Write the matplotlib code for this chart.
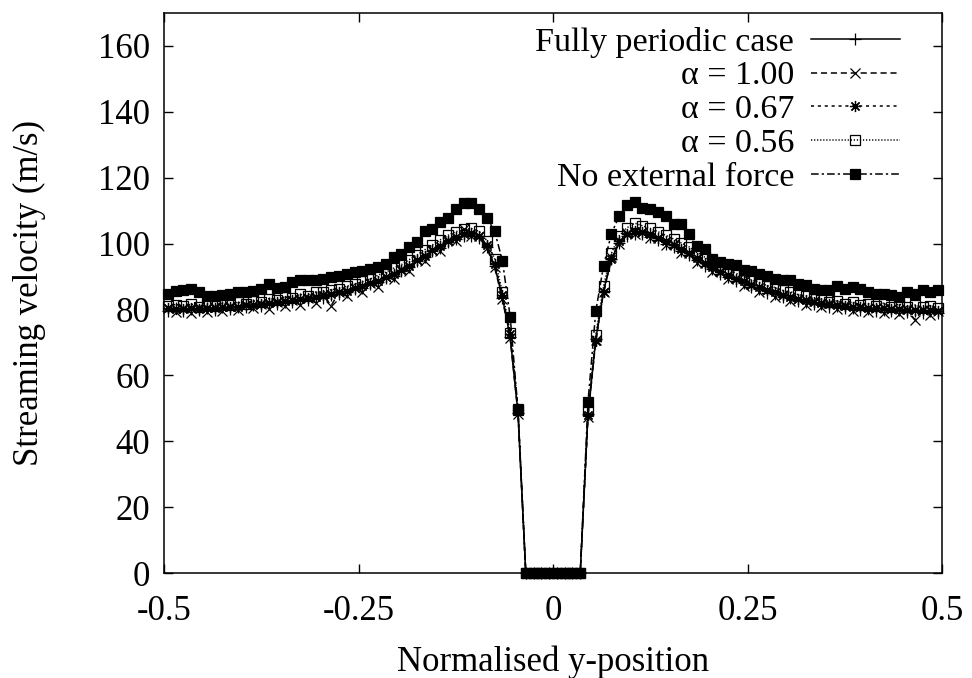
import numpy as np
import matplotlib
matplotlib.use("Agg")
import matplotlib.pyplot as plt

# ---- data ----
x_pos = np.round(np.arange(-0.495, 0.5, 0.01), 3)   # 100 cell centres

zeros8 = [0.0] * 8

fully_periodic = [
    79.6, 80.3, 79.5, 80.2, 79.8, 80.3, 79.9, 80.6, 80.2, 80.9,
    80.6, 81.4, 81.1, 81.9, 81.6, 82.4, 82.2, 83.1, 82.9, 83.7,
    83.6, 84.5, 84.6, 85.2, 86.2, 86.5, 87.6, 88.2, 89.5, 90.3,
    91.8, 92.8, 94.6, 95.8, 97.7, 98.8, 100.5, 101.3, 102.4, 102.4,
    101.7, 99.0, 93.2, 83.6, 71.5, 48.6] + zeros8 + [
    48.2, 71.0, 85.6, 95.2, 100.2, 102.4, 103.0, 102.9, 102.1, 101.2,
    100.0, 99.1, 97.8, 96.4, 94.9, 93.3, 92.2, 90.8, 90.0, 88.7,
    88.0, 86.8, 86.2, 85.1, 84.7, 83.7, 83.5, 82.5, 82.4, 81.6,
    81.6, 80.9, 81.0, 80.3, 80.5, 79.9, 80.1, 79.6, 79.9, 79.4,
    79.7, 79.2, 79.5, 79.0, 79.4, 78.9]

alpha_100 = [
    80.5, 79.2, 80.4, 78.9, 80.6, 79.3, 80.8, 79.6, 81.0, 79.8,
    81.3, 80.5, 81.8, 80.2, 82.3, 81.0, 83.0, 81.3, 83.4, 82.0,
    84.1, 81.2, 85.3, 84.0, 86.4, 85.2, 88.0, 86.9, 89.9, 89.1,
    92.2, 91.6, 95.0, 94.7, 98.1, 97.8, 101.0, 100.9, 104.5, 102.3,
    102.2, 98.6, 92.8, 83.1, 71.2, 48.4] + zeros8 + [
    47.5, 70.8, 85.3, 95.8, 100.0, 103.1, 102.8, 103.5, 101.7, 101.8,
    99.6, 99.8, 97.2, 97.1, 94.1, 94.2, 91.4, 91.8, 89.1, 89.6,
    87.1, 87.8, 85.3, 86.0, 83.8, 84.5, 82.6, 83.3, 81.5, 82.5,
    80.6, 81.9, 80.1, 81.3, 79.5, 80.8, 79.1, 80.5, 78.9, 80.2,
    78.6, 80.0, 76.9, 79.8, 78.4, 79.6]

alpha_067 = [
    80.3, 80.1, 80.0, 80.4, 80.2, 80.3, 80.5, 80.6, 80.9, 80.9,
    81.3, 81.4, 81.8, 81.9, 82.3, 82.5, 82.9, 83.2, 83.6, 83.8,
    84.3, 84.6, 85.2, 85.7, 86.4, 87.0, 87.9, 88.7, 89.8, 90.8,
    92.1, 93.3, 94.9, 96.3, 98.0, 99.3, 100.8, 101.9, 102.8, 103.3,
    102.3, 99.6, 93.9, 84.4, 72.5, 49.4] + zeros8 + [
    48.0, 70.5, 85.2, 95.3, 100.8, 103.0, 103.7, 103.4, 102.8, 101.7,
    100.8, 99.6, 98.5, 97.0, 95.5, 94.0, 92.8, 91.5, 90.5, 89.4,
    88.5, 87.5, 86.7, 85.8, 85.2, 84.4, 83.9, 83.2, 82.8, 82.3,
    82.0, 81.6, 81.4, 81.0, 80.9, 80.6, 80.5, 80.3, 80.3, 80.1,
    80.1, 79.9, 79.9, 79.7, 79.8, 79.6]

alpha_056 = [
    81.2, 81.5, 81.0, 81.6, 80.8, 81.3, 81.0, 81.8, 81.4, 82.2,
    81.8, 82.6, 82.2, 83.3, 83.0, 83.8, 83.6, 84.6, 84.2, 85.3,
    85.2, 86.0, 86.3, 87.1, 87.6, 88.5, 89.2, 90.4, 91.3, 92.5,
    93.6, 95.1, 96.5, 98.1, 99.6, 101.1, 102.5, 103.6, 104.3, 104.6,
    103.7, 100.9, 95.3, 85.2, 73.0, 49.8] + zeros8 + [
    49.2, 72.3, 87.2, 97.0, 102.3, 104.8, 106.2, 105.4, 104.6, 103.6,
    102.5, 101.4, 100.2, 99.0, 97.3, 95.9, 94.6, 93.2, 92.2, 91.0,
    90.1, 89.0, 88.3, 87.2, 86.7, 85.8, 85.4, 84.5, 84.1, 83.3,
    83.1, 82.4, 82.6, 81.8, 82.2, 81.4, 81.8, 81.1, 81.9, 80.9,
    81.6, 80.8, 81.4, 80.6, 81.2, 80.5]

no_external = [
    84.8, 85.5, 85.8, 86.3, 85.2, 84.2, 84.2, 84.3, 84.8, 85.2,
    85.2, 85.5, 86.3, 87.8, 86.5, 86.8, 88.3, 88.8, 88.8, 89.0,
    89.3, 89.8, 90.3, 90.8, 91.3, 91.8, 92.3, 92.8, 93.8, 95.8,
    96.9, 98.9, 100.4, 103.7, 104.5, 106.5, 107.8, 110.5, 112.2, 112.2,
    110.5, 107.8, 103.7, 94.8, 77.7, 49.5] + zeros8 + [
    52.0, 79.5, 93.3, 103.0, 108.3, 111.7, 112.7, 110.8, 110.5, 109.5,
    108.5, 106.0, 106.0, 103.0, 99.4, 98.4, 95.4, 94.5, 93.8, 93.5,
    92.0, 91.8, 90.8, 90.3, 89.3, 88.8, 88.8, 87.8, 87.3, 86.3,
    85.8, 85.8, 87.0, 86.3, 86.8, 86.3, 85.2, 84.8, 84.8, 84.5,
    83.7, 85.2, 84.8, 85.8, 85.2, 85.8]

labels = ["Fully periodic case", "\u03b1 = 1.00", "\u03b1 = 0.67",
          "\u03b1 = 0.56", "No external force"]
x_ticks = [-0.5, -0.25, 0, 0.25, 0.5]
x_tick_labels = ["-0.5", "-0.25", "0", "0.25", "0.5"]
y_ticks = [0, 20, 40, 60, 80, 100, 120, 140, 160]

# ---- figure ----
plt.rcParams["font.family"] = ["Liberation Serif", "DejaVu Serif"]
FS = 25
LFS = 24.5

fig = plt.figure(figsize=(9.72, 6.78), dpi=100)
ax = fig.add_axes([164 / 972, 1 - 573 / 678, 778 / 972, 560 / 678])

lw = 1.1
common = dict(color="black", lw=lw, clip_on=False, markeredgewidth=0.9)
ax.plot(x_pos, fully_periodic, ls="-", marker="+", ms=8, label=labels[0], **common)
ax.plot(x_pos, alpha_100, ls=(0, (4, 2.5)), marker="x", ms=7, label=labels[1], **common)
ax.plot(x_pos, alpha_067, ls=(0, (2, 2.5)), marker=(8, 2, 0), ms=8, label=labels[2], **common)
ax.plot(x_pos, alpha_056, ls=(0, (0.8, 1.2)), marker="s", ms=7, mfc="none",
        label=labels[3], **common)
ax.plot(x_pos, no_external, ls=(0, (5, 2, 1.5, 2)), marker="s", ms=7.5, mfc="black",
        label=labels[4], **common)

ax.set_xlim(-0.5, 0.5)
ax.set_ylim(0, 170)
ax.set_xticks(x_ticks)
ax.set_xticklabels(x_tick_labels)
ax.set_yticks(y_ticks)
ax.tick_params(direction="in", top=True, right=True, length=6.5, width=1,
               labelsize=FS, colors="black")
ax.tick_params(axis="x", pad=16)
ax.tick_params(axis="y", pad=10)
for s in ax.spines.values():
    s.set_linewidth(1.1)

ax.set_xlabel("Normalised y-position", fontsize=FS)
ax.set_ylabel("Streaming velocity (m/s)", fontsize=FS)
ax.xaxis.set_label_coords(0.5, -0.13)
ax.yaxis.set_label_coords(-0.152, 0.5)

leg = ax.legend(loc="upper right", bbox_to_anchor=(0.963, 1.0), frameon=False,
                markerfirst=False, numpoints=1, fontsize=LFS, handlelength=2.6,
                handletextpad=0.5, labelspacing=0.09, borderaxespad=0.2,
                borderpad=0.2)

fig.savefig("out.png", dpi=100)
